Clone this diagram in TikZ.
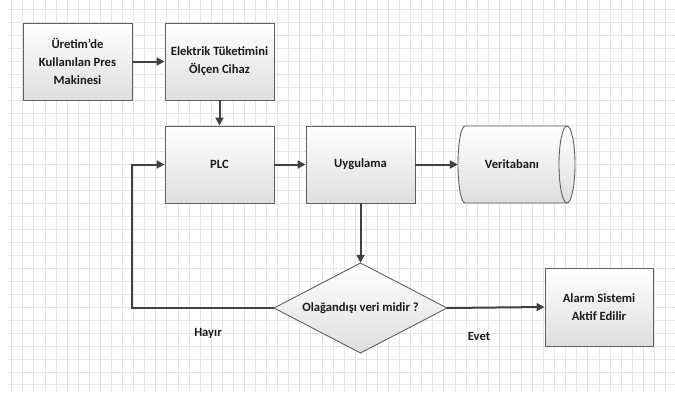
\documentclass[tikz,border=0pt]{standalone}
\usepackage{fontspec}
\setmainfont{Carlito}
\usetikzlibrary{arrows.meta,calc}
\definecolor{boxline}{RGB}{95,95,95}
\definecolor{arrowc}{RGB}{64,64,64}
\definecolor{gridc}{RGB}{229,229,229}
\definecolor{boxbot}{RGB}{222,222,222}
\definecolor{txt}{RGB}{25,25,25}
\begin{document}
\begin{tikzpicture}[x=1pt,y=-1pt,
  font=\fontsize{12.6}{18}\selectfont\bfseries,
  every node/.style={text=txt},
  box/.style={draw=boxline, line width=0.9pt, top color=white, bottom color=boxbot,
    minimum width=109pt, minimum height=77pt, align=center, inner sep=2pt},
  ghost/.style={draw=none, align=center, inner sep=0pt},
  shapefill/.style={draw=boxline, line width=0.9pt, top color=white, bottom color=boxbot},
  arr/.style={draw=arrowc, line width=2pt, line join=miter, -{Triangle[length=8pt,width=8pt]}},
  lbl/.style={inner sep=1pt}]
\useasboundingbox (0,0) rectangle (675,392);
\fill[white] (0,0) rectangle (675,392);
% grid
\foreach \i in {0,...,59} {
  \draw[gridc, line width=0.8pt] ({11.7+11.08*\i},0) -- ({11.7+11.08*\i},392);
}
\foreach \j in {0,...,29} {
  \draw[gridc, line width=0.8pt] (8,{9.3+12.95*\j}) -- (675,{9.3+12.95*\j});
}
% boxes
\node[box] (pres) at (77.5,61.5) {Üretim’de\\Kullanılan Pres\\Makinesi};
\node[box] (olc) at (219.5,61.5) {Elektrik Tüketimini\\Ölçen Cihaz};
\node[box] (plc) at (219.5,164.5) {PLC};
\node[box] (uyg) at (360.5,164.5) {Uygulama};
\node[box, minimum width=108pt, minimum height=78pt] (alarm) at (599,307) {Alarm Sistemi\\Aktif Edilir};
% database cylinder
\path[shapefill] (465,126) -- (567,126)
  arc[start angle=-90, end angle=90, x radius=8, y radius=38.5]
  -- (465,203)
  arc[start angle=90, end angle=270, x radius=7, y radius=38.5] -- cycle;
\draw[boxline, line width=0.9pt] (567,126) arc[start angle=-90, end angle=-270, x radius=8, y radius=38.5];
\node[ghost, minimum width=116pt, minimum height=77pt] (db) at (516,164.5) {};
\node[ghost] (dbtext) at (512,164.5) {Veritabanı};
% decision diamond
\path[shapefill] (360.5,263) -- (447,308) -- (360.5,353) -- (274,308) -- cycle;
\node[ghost, minimum width=173pt, minimum height=90pt] (dec) at (360.5,308) {Olağandışı veri midir ?};
% labels
\node[lbl] (hayir) at (208,333) {Hayır};
\node[lbl] (evet) at (479,336) {Evet};
% connectors
\coordinate (lp) at (132,308);
\draw[arr] (pres) -- (olc);
\draw[arr] (olc) -- (plc);
\draw[arr] (plc) -- (uyg);
\draw[arr] (uyg) -- (db.west);
\draw[arr] (uyg) -- (dec.north);
\draw[arr] (dec.east) -- (alarm.west);
\draw[arr] (dec.west) -- (lp) |- (plc.west);
\end{tikzpicture}
\end{document}
